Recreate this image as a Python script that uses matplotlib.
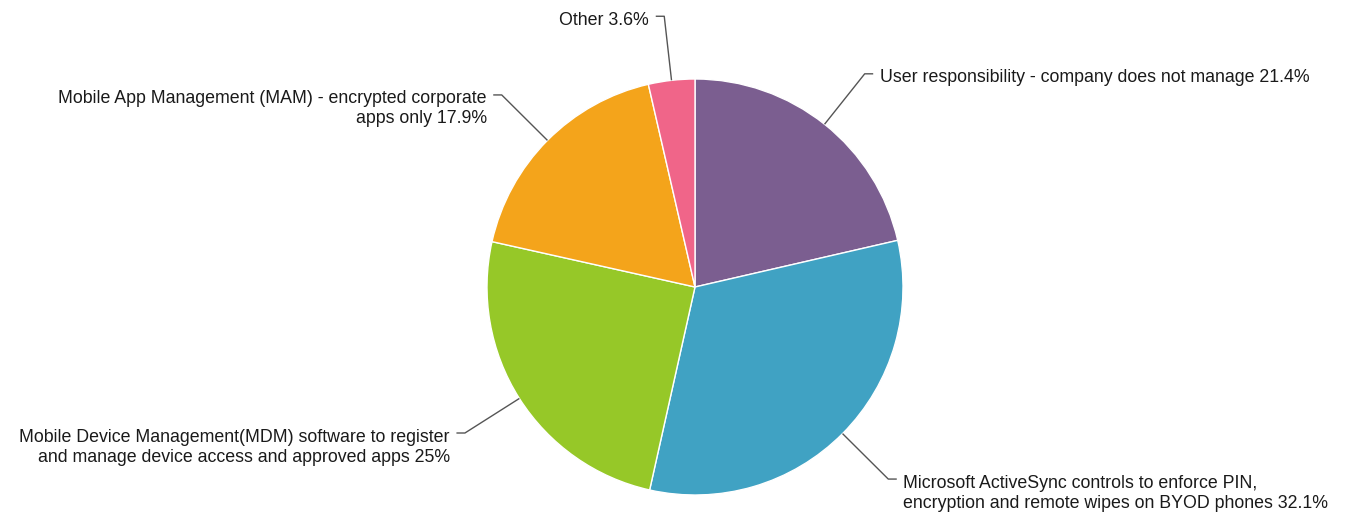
import numpy as np
import matplotlib.pyplot as plt

plt.rcParams['font.family'] = ['Liberation Sans', 'DejaVu Sans']

labels = [
    "User responsibility - company does not manage 21.4%",
    "Microsoft ActiveSync controls to enforce PIN,\nencryption and remote wipes on BYOD phones 32.1%",
    "Mobile Device Management(MDM) software to register\nand manage device access and approved apps 25%",
    "Mobile App Management (MAM) - encrypted corporate\napps only 17.9%",
    "Other 3.6%",
]
values = [21.4, 32.1, 25, 17.9, 3.6]
colors = ["#7b5e90", "#40a2c3", "#96c828", "#f4a41b", "#f06589"]

W, H = 1349, 512
cx, cy, R = 695, 287, 208   # pie centre / radius in pixels (from top-left)

fig = plt.figure(figsize=(W / 100, H / 100), dpi=100)
ax = fig.add_axes([0, 0, 1, 1])

wedges, _ = ax.pie(values, colors=colors, startangle=90, counterclock=False,
                   radius=1, wedgeprops=dict(edgecolor="white", linewidth=1))
ax.set_xlim(-cx / R, (W - cx) / R)
ax.set_ylim(-(H - cy) / R, cy / R)
ax.set_aspect("auto")
ax.axis("off")

fs = 12.8
line_px = 20
for w, lab in zip(wedges, labels):
    ang = np.deg2rad((w.theta1 + w.theta2) / 2)
    x0, y0 = np.cos(ang), np.sin(ang)
    r2 = 1.31
    x1, y1 = r2 * x0, r2 * y0
    side = 1 if x0 >= 0 else -1
    x2 = x1 + side * 8.5 / R
    ax.plot([x0, x1, x2], [y0, y1, y1],
            color="#555555", lw=1, solid_capstyle="butt")
    tx = x2 + side * 6.5 / R
    # one text per line so the first line sits on the leader
    for k, part in enumerate(lab.split("\n")):
        ax.text(tx, y1 - (2 + k * line_px) / R, part, fontsize=fs,
                color="#1a1a1a", ha="left" if side > 0 else "right",
                va="center_baseline")

fig.savefig("out.png", dpi=100)
